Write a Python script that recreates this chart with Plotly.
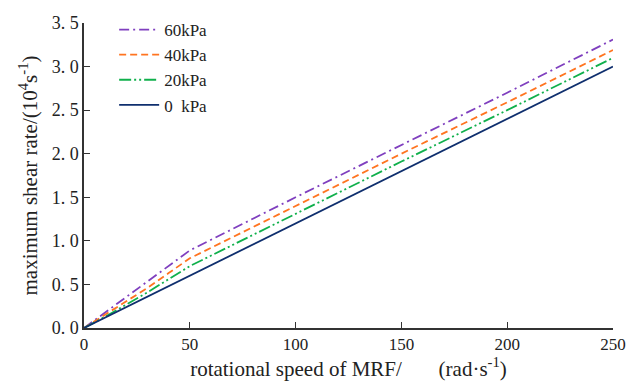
import plotly.graph_objects as go

speed = [0, 10, 20, 30, 40, 50, 100, 150, 200, 250]
rate_60 = [0, 0.18, 0.36, 0.54, 0.71, 0.89, 1.50, 2.10, 2.70, 3.31]
rate_40 = [0, 0.15, 0.30, 0.46, 0.63, 0.80, 1.40, 2.00, 2.59, 3.19]
rate_20 = [0, 0.13, 0.27, 0.41, 0.56, 0.71, 1.31, 1.91, 2.50, 3.10]
rate_0 = [0, 0.12, 0.24, 0.36, 0.48, 0.60, 1.20, 1.80, 2.40, 3.00]

names = ["60kPa", "40kPa", "20kPa", "0\u00a0 kPa"]
series = [rate_60, rate_40, rate_20, rate_0]
colors = ["#7f3fbf", "#ff7420", "#10b04c", "#0f2f6e"]
dashes = ["10px,4px,2px,4px", "7px,4px", "12px,3px,2px,3px,2px,3px", "solid"]

y_ticks = [0, 0.5, 1.0, 1.5, 2.0, 2.5, 3.0, 3.5]
y_labels = ["0. 0", "0. 5", "1. 0", "1. 5", "2. 0", "2. 5", "3. 0", "3. 5"]
x_ticks = [0, 50, 100, 150, 200, 250]

fig = go.Figure()
for n, s, c, d in zip(names, series, colors, dashes):
    fig.add_trace(go.Scatter(x=speed, y=s, mode="lines", name=n,
                             line=dict(color=c, width=1.8, dash=d)))

font = "Liberation Serif, Times New Roman, serif"
fig.update_layout(
    width=628, height=387,
    margin=dict(l=84, r=15, t=19, b=59),
    plot_bgcolor="white", paper_bgcolor="white",
    font=dict(family=font, size=17, color="#222"),
    showlegend=True,
    legend=dict(x=0.057, y=1.036, xanchor="left", yanchor="top",
                bgcolor="rgba(0,0,0,0)", font=dict(size=17, family=font),
                itemwidth=40, tracegroupgap=0),
    xaxis=dict(range=[0, 250], tickvals=x_ticks, showgrid=False, zeroline=False,
               showline=True, linecolor="#333", linewidth=1.5,
               ticks="inside", ticklen=6, tickcolor="#333", automargin=False,
               tickfont=dict(size=17, family=font),
               title=dict(text="rotational speed of MRF/\u2003\u00a0\u00a0\u00a0(rad·s<sup>-1</sup>)",
                          font=dict(size=21, family=font), standoff=5)),
    yaxis=dict(range=[0, 3.5], tickvals=y_ticks, ticktext=y_labels, showgrid=False,
               zeroline=False, showline=True, linecolor="#333", linewidth=1.5,
               ticks="inside", ticklen=6, tickcolor="#333", automargin=False,
               tickfont=dict(size=18, family=font),
               title=dict(text="maximum shear rate/(10<sup>4</sup>s<sup>-1</sup>)",
                          font=dict(size=21, family=font), standoff=8)),
)
fig.write_html("out.html", config={"displayModeBar": False},
               post_script="document.body.style.margin='0';document.body.style.overflow='hidden';")
